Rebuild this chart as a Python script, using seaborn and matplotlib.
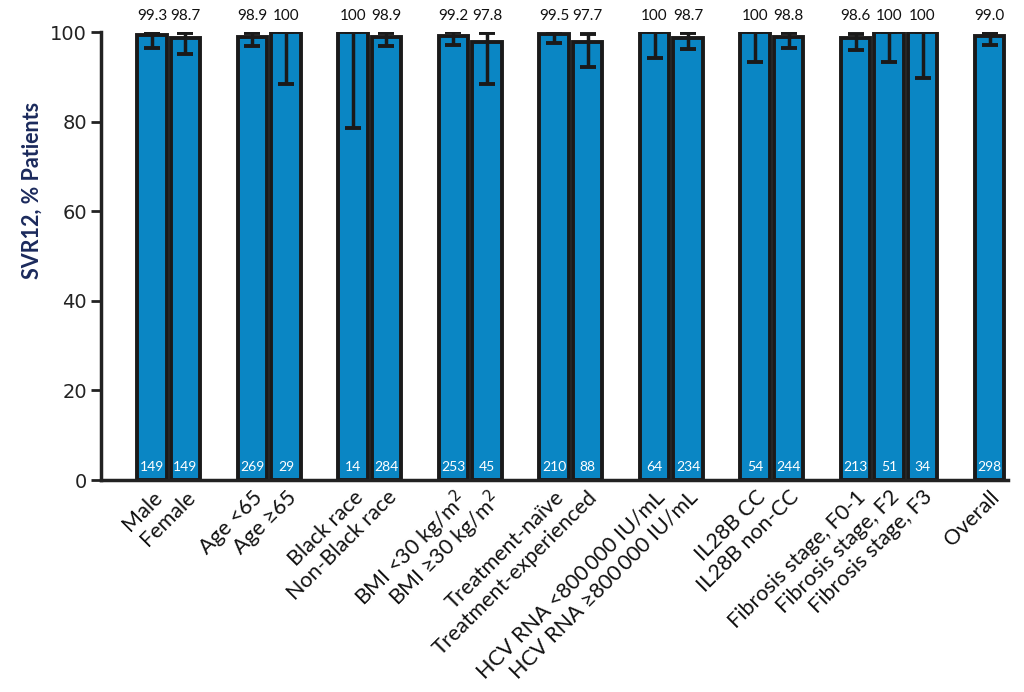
import matplotlib
matplotlib.use("Agg")
import matplotlib.pyplot as plt
import seaborn as sns
import pandas as pd
import numpy as np

categories = ["Male", "Female", "Age <65", "Age \u226565", "Black race", "Non-Black race",
              "BMI <30 kg/m$^{2}$", "BMI \u226530 kg/m$^{2}$", "Treatment-na\u00efve", "Treatment-experienced",
              "HCV RNA <800\u2009000 IU/mL", "HCV RNA \u2265800\u2009000 IU/mL", "IL28B CC", "IL28B non-CC",
              "Fibrosis stage, F0-1", "Fibrosis stage, F2", "Fibrosis stage, F3", "Overall"]
groups = [0, 0, 1, 1, 2, 2, 3, 3, 4, 4, 5, 5, 6, 6, 7, 7, 7, 8]
svr = [99.3, 98.7, 98.9, 100, 100, 98.9, 99.2, 97.8, 99.5, 97.7, 100, 98.7, 100, 98.8, 98.6, 100, 100, 99.0]
value_labels = ["99.3", "98.7", "98.9", "100", "100", "98.9", "99.2", "97.8", "99.5", "97.7",
                "100", "98.7", "100", "98.8", "98.6", "100", "100", "99.0"]
n_patients = [149, 149, 269, 29, 14, 284, 253, 45, 210, 88, 64, 234, 54, 244, 213, 51, 34, 298]
ci_low = [96.4, 95.2, 96.9, 88.4, 78.6, 96.9, 97.2, 88.5, 97.5, 92.2, 94.3, 96.3, 93.4, 96.5, 96.0, 93.2, 89.8, 97.2]
ci_high = [99.9, 99.7, 99.7, 100, 100, 99.7, 99.9, 99.7, 99.9, 99.5, 100, 99.7, 100, 99.7, 99.6, 100, 100, 99.8]

# positions: one empty slot between groups
pos = [i + g for i, g in enumerate(groups)]

df = pd.DataFrame({"pos": pos, "svr": svr, "cat": categories})

sns.set_theme(style="ticks")
plt.rcParams["font.family"] = ["Lato", "DejaVu Sans"]

fig = plt.figure(figsize=(10.24, 6.92), dpi=100)
ax = fig.add_axes([101 / 1024, 1 - 480 / 692, (1008 - 101) / 1024, (480 - 32) / 692])

bar_color = "#0a86c4"
sns.barplot(data=df, x="pos", y="svr", native_scale=True, width=0.87, color=bar_color,
            edgecolor="#1a1a1a", linewidth=2.8, errorbar=None, saturation=1, ax=ax)

lower = np.array(svr) - np.array(ci_low)
upper = np.array(ci_high) - np.array(svr)
ax.errorbar(pos, svr, yerr=[lower, upper], fmt="none", ecolor="#1a1a1a",
            elinewidth=2.5, capsize=5.5, capthick=2.8, zorder=5)

for p, lab, n in zip(pos, value_labels, n_patients):
    ax.text(p, 103.6, lab, ha="center", va="center", fontsize=11, color="#111111", clip_on=False)
    ax.text(p, 3.0, str(n), ha="center", va="center", fontsize=10, color="white", zorder=6)

ax.set_xlim(-1.52, 25.55)
ax.set_ylim(0, 100)
ax.set_yticks([0, 20, 40, 60, 80, 100])
ax.set_yticklabels(["0", "20", "40", "60", "80", "100"], fontfamily="DejaVu Sans", fontsize=14, color="#222222")
ax.set_xticks(pos)
ax.set_xticklabels(categories, rotation=45, ha="right", rotation_mode="anchor", fontsize=15.5, color="#111111")
ax.tick_params(axis="x", length=0, pad=5)
ax.tick_params(axis="y", length=7, width=2, color="#222222", pad=3)
ax.set_xlabel("")
ax.set_ylabel("")
fig.text(32 / 1024, 1 - 190 / 692, "SVR12, % Patients", rotation=90, ha="center", va="center",
         fontsize=15.5, fontweight="bold", color="#1b2a5c")
for s in ["left", "bottom"]:
    ax.spines[s].set_linewidth(2.5)
    ax.spines[s].set_color("#222222")
sns.despine(ax=ax)

fig.savefig("out.png", dpi=100)
